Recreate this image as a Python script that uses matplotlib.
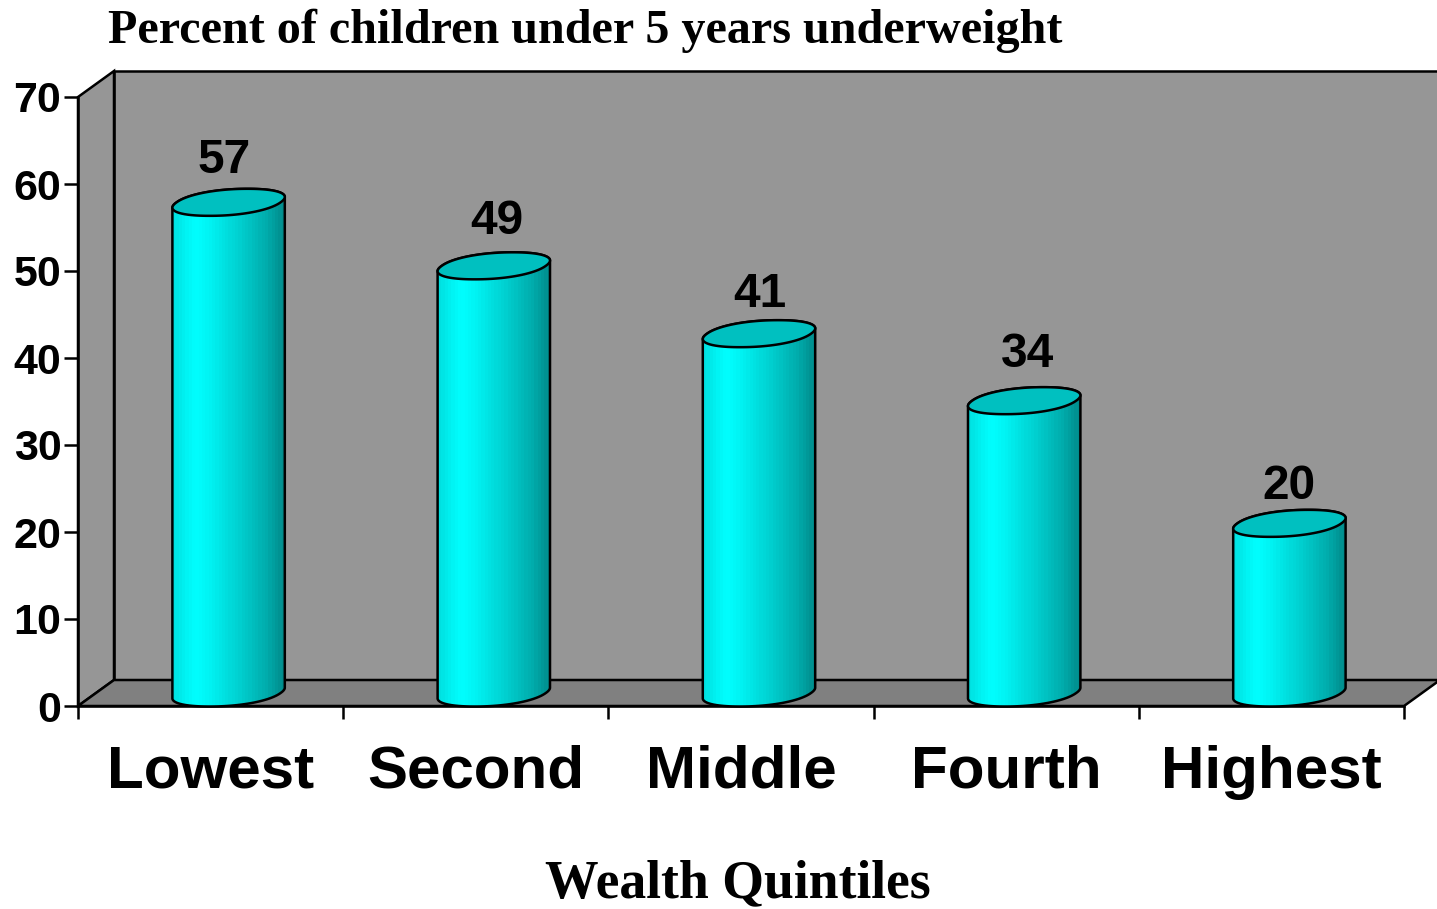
import numpy as np
import matplotlib
matplotlib.use("Agg")
import matplotlib.pyplot as plt
from matplotlib.colors import LinearSegmentedColormap
from matplotlib.patches import Polygon

categories = ["Lowest", "Second", "Middle", "Fourth", "Highest"]
bar_heights = [56.4, 49.1, 41.3, 33.6, 19.5]
bar_labels = ["57", "49", "41", "34", "20"]
label_nudges = [(-4, 42), (3, 44), (1, 39), (3, 46), (0, 37)]
y_ticks = [0, 10, 20, 30, 40, 50, 60, 70]

W, H = 1437, 909
X0, X1, Y0, Y1 = 78, 1404, 706, 97
PX = 5 / (X1 - X0)
PY = 70 / (Y0 - Y1)
DX, DY = 36 * PX, 26 * PY
WALL = "#969696"
FLOOR = "#808080"
SANS = "Liberation Sans"
SERIF = "Liberation Serif"
LW = 1.8

fig = plt.figure(figsize=(W / 100, H / 100), dpi=100)
ax = fig.add_axes([X0 / W, (H - Y0) / H, (X1 - X0) / W, (Y0 - Y1) / H])
ax.set_xlim(0, 5)
ax.set_ylim(0, 70)
ax.patch.set_visible(False)

# the box
ax.add_patch(Polygon([(DX, DY), (5 + DX, DY), (5 + DX, 70 + DY), (DX, 70 + DY)],
                     fc=WALL, ec="black", lw=LW, clip_on=False, zorder=1))
ax.add_patch(Polygon([(0, 0), (DX, DY), (DX, 70 + DY), (0, 70)],
                     fc=WALL, ec="black", lw=LW, clip_on=False, zorder=1))
ax.add_patch(Polygon([(0, 0), (5, 0), (5 + DX, DY), (DX, DY)],
                     fc=FLOOR, ec="black", lw=LW, clip_on=False, zorder=1))

shade = LinearSegmentedColormap.from_list("shade", [
    (0.0, "#00e0e0"), (0.12, "#00f4f4"), (0.2, "#00ffff"), (0.32, "#00f4f4"),
    (0.6, "#00d0d0"), (0.85, "#00acac"), (1.0, "#008c8c")], N=34)

# cap shape: a slightly squared ellipse, sheared to the right going backwards
r = 52 * PX
vx = 19 * PX
vy = 13.5 * PY
SQ = 0.92


def ellipse(cx, cy):
    t = np.linspace(0, 2 * np.pi, 361)[:-1]
    c = np.sign(np.cos(t)) * np.abs(np.cos(t)) ** SQ
    s = np.sign(np.sin(t)) * np.abs(np.sin(t)) ** SQ
    return np.column_stack([cx + r * c + vx * s, cy + vy * s])


for i, h in enumerate(bar_heights):
    cx = i + 0.5 + DX / 2
    base = DY / 2
    top = base + h
    low = ellipse(cx, base)
    cap = ellipse(cx, top)
    k_right, k_left = np.argmax(cap[:, 0]), np.argmin(cap[:, 0])
    half = cap[k_right, 0] - cx
    front = np.roll(low, -k_left, axis=0)[:(k_right - k_left) % 360 + 1]
    back = np.roll(cap, -k_right, axis=0)[:(k_left - k_right) % 360 + 1]
    body = Polygon(np.vstack([front, back]), closed=True, fc="none", ec="black",
                   lw=LW, zorder=4, clip_on=False)
    ax.add_patch(body)
    im = ax.imshow(np.linspace(0, 1, 68)[None, :], cmap=shade, aspect="auto",
                   interpolation="nearest", zorder=3,
                   extent=(cx - half, cx + half, 0, top + vy + 1))
    im.set_clip_path(body)
    ax.add_patch(Polygon(cap, closed=True, fc="#00c0c0", ec="black", lw=LW,
                         zorder=5, clip_on=False))
    nx, ny = label_nudges[i]
    ax.annotate(bar_labels[i], (cx, top), xytext=(nx * 0.72, ny * 0.72),
                textcoords="offset points", ha="center", va="center",
                fontsize=34.5, fontweight="bold", family=SANS, zorder=6)

ax.set_xlim(0, 5)
ax.set_ylim(0, 70)

for side in ["top", "right"]:
    ax.spines[side].set_visible(False)
for side in ["left", "bottom"]:
    ax.spines[side].set_linewidth(LW)
    ax.spines[side].set_zorder(2)

ax.set_yticks(y_ticks)
ax.set_yticklabels([str(v) for v in y_ticks], fontsize=31, fontweight="bold", family=SANS)
ax.tick_params(axis="y", length=10, width=LW, pad=2)
ax.set_xticks(range(6))
ax.set_xticklabels([])
ax.tick_params(axis="x", which="major", length=9, width=LW)
ax.set_xticks(np.arange(5) + 0.5, minor=True)
ax.set_xticklabels(categories, minor=True, fontsize=43.3, fontweight="bold", family=SANS)
ax.tick_params(axis="x", which="minor", length=0, pad=28)

fig.text(108 / W, 1 - 43 / H, "Percent of children under 5 years underweight",
         fontsize=34.7, fontweight="bold", family=SERIF, ha="left", va="baseline")
fig.text(738 / W, 1 - 897 / H, "Wealth Quintiles",
         fontsize=38.6, fontweight="bold", family=SERIF, ha="center", va="baseline")

fig.savefig("out.png", dpi=100)
